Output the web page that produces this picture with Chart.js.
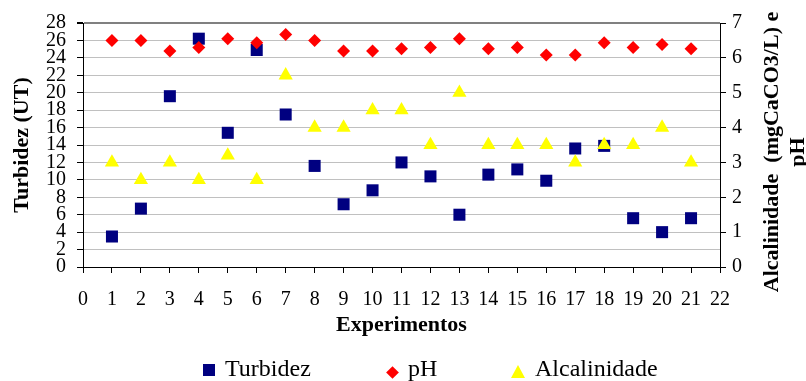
<!DOCTYPE html>
<html>
<head>
<meta charset="utf-8">
<script src="https://cdn.jsdelivr.net/npm/chart.js@4/dist/chart.umd.min.js"></script>
<style>
html,body{margin:0;padding:0;background:#fff;}
#wrap{position:relative;width:806px;height:381px;overflow:hidden;}
#c{position:absolute;left:0;top:0;}
.lg-text{position:absolute;top:356px;font-family:'Liberation Serif','Times New Roman',serif;font-size:24px;line-height:24px;color:#000;white-space:nowrap;}
.lg-mark{position:absolute;}
</style>
</head>
<body>
<div id="wrap">
<canvas id="c" width="806" height="381"></canvas>
</div>
<script>
// ---- data ----
const experimentos = [1,2,3,4,5,6,7,8,9,10,11,12,13,14,15,16,17,18,19,20,21];
const turbidez = [3.5,6.7,19.6,26.2,15.4,24.9,17.5,11.6,7.2,8.8,12.0,10.4,6.0,10.6,11.2,9.9,13.6,13.9,5.6,4.0,5.6];
const ph = [6.5,6.5,6.2,6.3,6.55,6.43,6.67,6.5,6.2,6.2,6.26,6.3,6.55,6.26,6.3,6.08,6.08,6.43,6.3,6.38,6.26];
const alcalinidade = [3,2.5,3,2.5,3.2,2.5,5.5,4,4,4.5,4.5,3.5,5,3.5,3.5,3.5,3,3.5,3.5,4,3];
const seriesNames = ['Turbidez','pH','Alcalinidade'];
const xTitle = 'Experimentos';
const leftTitle = 'Turbidez (UT)';
const rightTitle = ['Alcalinidade  (mgCaCO3/L) e','pH'];

const FONT = "'Liberation Serif','Times New Roman',serif";
const toPts = (ys) => experimentos.map((x, i) => ({x, y: ys[i]}));

const rightTitlePlugin = {
  id: 'rightTitle',
  afterDraw(chart) {
    const s = chart.scales.y1;
    const ctx = chart.ctx;
    ctx.save();
    ctx.font = 'bold 22px ' + FONT;
    ctx.fillStyle = '#000';
    ctx.textAlign = 'center';
    ctx.textBaseline = 'middle';
    const cy = (s.top + s.bottom) / 2 + 7;
    rightTitle.forEach((line, i) => {
      ctx.save();
      ctx.translate(s.left + 52 + i * 26.5, cy);
      ctx.rotate(-Math.PI / 2);
      ctx.fillText(line, 0, 0);
      ctx.restore();
    });
    ctx.restore();
  }
};

const chart = new Chart(document.getElementById('c'), {
  type: 'scatter',
  data: {
    datasets: [
      {label: seriesNames[0], data: toPts(turbidez), yAxisID: 'y', pointStyle: 'rect', pointRadius: 8.5, backgroundColor: '#000080', borderWidth: 0, order: 3},
      {label: seriesNames[1], data: toPts(ph), yAxisID: 'y1', pointStyle: 'rectRot', pointRadius: 6.5, backgroundColor: '#ff0000', borderWidth: 0, order: 2},
      {label: seriesNames[2], data: toPts(alcalinidade), yAxisID: 'y1', pointStyle: 'triangle', pointRadius: 8.2, backgroundColor: '#ffff00', borderWidth: 0, order: 1}
    ]
  },
  options: {
    responsive: false,
    animation: false,
    events: [],
    devicePixelRatio: 1,
    layout: {padding: {top: 23, left: 0, right: 0, bottom: 0}},
    plugins: {legend: {display: false}, tooltip: {enabled: false}, title: {display: false}},
    scales: {
      x: {
        type: 'linear', min: 0, max: 22,
        ticks: {stepSize: 1, autoSkip: false, maxRotation: 0, minRotation: 0, color: '#000', font: {family: FONT, size: 20}, padding: 15},
        grid: {display: true, drawOnChartArea: false, tickLength: 6, tickColor: '#000', color: '#000'},
        border: {display: true, color: '#000', width: 1},
        title: {display: true, text: xTitle, color: '#000', font: {family: FONT, size: 22, weight: 'bold'}, padding: {top: 0, bottom: 42}},
        afterFit(s) { s.height = 114; }
      },
      y: {
        type: 'linear', position: 'left', min: 0, max: 28,
        ticks: {stepSize: 2, autoSkip: false, color: '#000', font: {family: FONT, size: 20}, padding: 11},
        grid: {display: true, drawOnChartArea: true, tickLength: 6, tickColor: '#000',
               color: (c) => (c.tick && c.tick.value === 28) ? '#808080' : '#c0c0c0',
               lineWidth: (c) => (c.tick && c.tick.value === 28) ? 2 : 1},
        border: {display: true, color: '#000', width: 1},
        title: {display: true, text: leftTitle, color: '#000', font: {family: FONT, size: 22, weight: 'bold'}, padding: {top: 9, bottom: 0}},
        afterFit(s) { s.width = 83; }
      },
      y1: {
        type: 'linear', position: 'right', min: 0, max: 7,
        ticks: {stepSize: 1, autoSkip: false, color: '#000', font: {family: FONT, size: 20}, padding: 6},
        grid: {display: true, drawOnChartArea: false, tickLength: 6, tickColor: '#000', color: '#000'},
        border: {display: true, color: '#000', width: 1},
        title: {display: false},
        afterFit(s) { s.width = 86; }
      }
    }
  },
  plugins: [rightTitlePlugin]
});

// ---- HTML legend built from the chart's datasets ----
const legendLayout = [
  {mark: {left: 203, top: 364, w: 12, h: 12, shape: 'square'}, textLeft: 225},
  {mark: {left: 387.5, top: 368, w: 9, h: 9, shape: 'diamond'}, textLeft: 408},
  {mark: {left: 511, top: 365, w: 7, h: 13, shape: 'triangle'}, textLeft: 535}
];
const wrap = document.getElementById('wrap');
chart.data.datasets.forEach((ds, i) => {
  const L = legendLayout[i];
  const m = document.createElement('div');
  m.className = 'lg-mark';
  m.style.left = L.mark.left + 'px';
  m.style.top = L.mark.top + 'px';
  if (L.mark.shape === 'triangle') {
    m.style.width = '0'; m.style.height = '0';
    m.style.borderLeft = L.mark.w + 'px solid transparent';
    m.style.borderRight = L.mark.w + 'px solid transparent';
    m.style.borderBottom = L.mark.h + 'px solid ' + ds.backgroundColor;
  } else {
    m.style.width = L.mark.w + 'px'; m.style.height = L.mark.h + 'px';
    m.style.background = ds.backgroundColor;
    if (L.mark.shape === 'diamond') m.style.transform = 'rotate(45deg)';
  }
  wrap.appendChild(m);
  const t = document.createElement('div');
  t.className = 'lg-text';
  t.style.left = L.textLeft + 'px';
  t.textContent = ds.label;
  wrap.appendChild(t);
});
</script>
</body>
</html>
